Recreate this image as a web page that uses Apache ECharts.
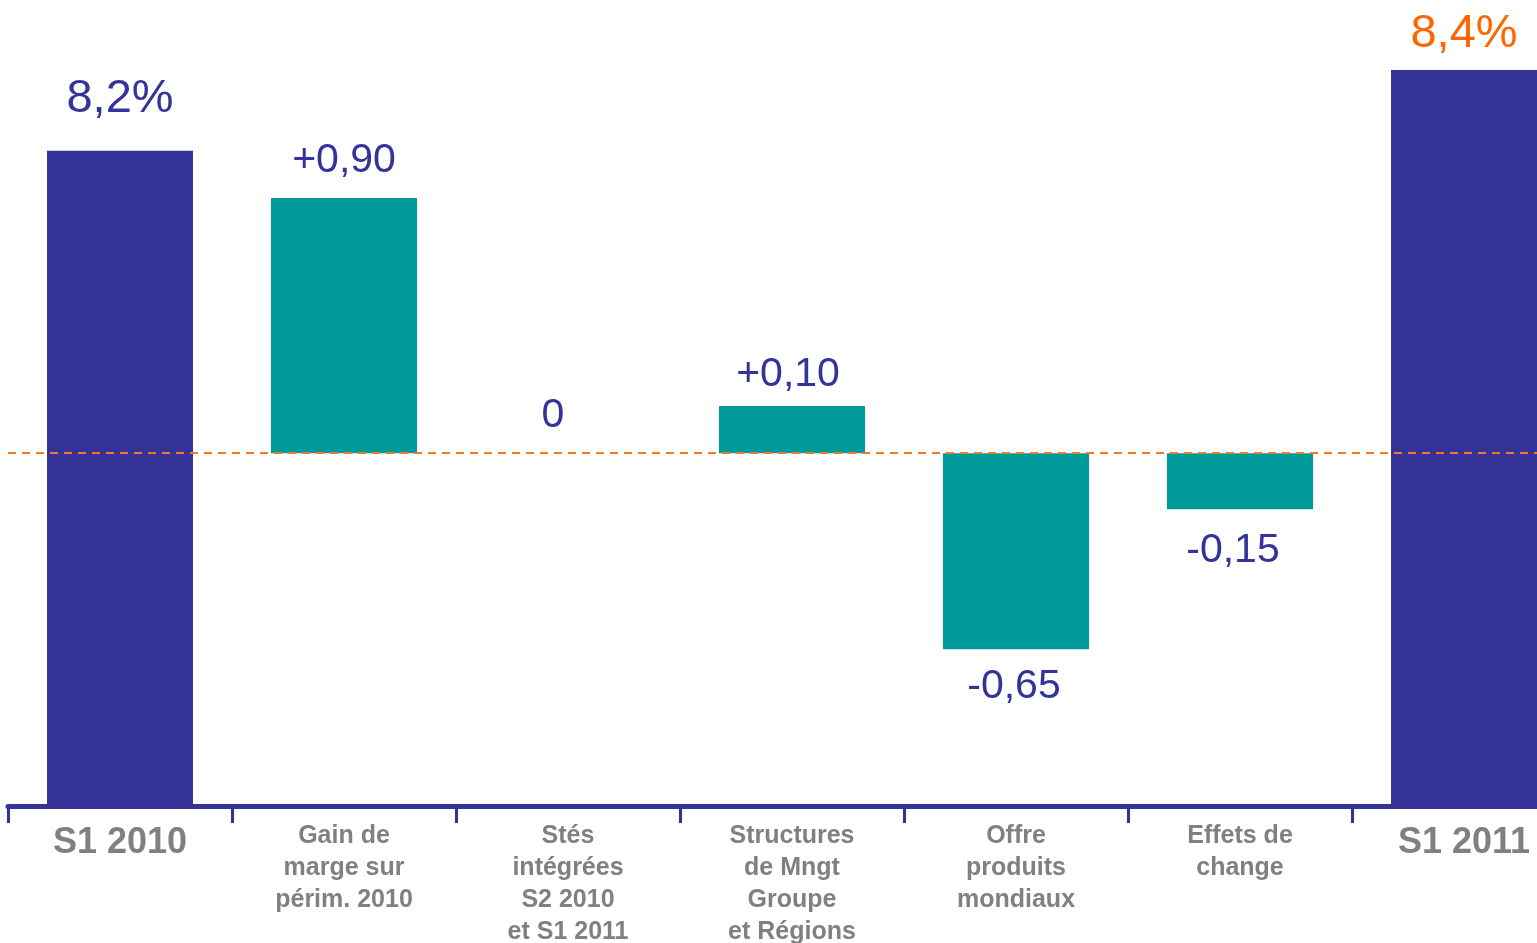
<!DOCTYPE html>
<html>
<head>
<meta charset="utf-8">
<script src="https://cdn.jsdelivr.net/npm/echarts@6/dist/echarts.min.js"></script>
<style>
  html, body { margin: 0; padding: 0; background: #fff; }
  #chart { width: 1537px; height: 943px; }
</style>
</head>
<body>
<div id="chart"></div>
<script>
// categories (bas de graphique)
const categories = [
  'S1 2010',
  'Gain de\nmarge sur\npérim. 2010',
  'Stés\nintégrées\nS2 2010\net S1 2011',
  'Structures\nde Mngt\nGroupe\net Régions',
  'Offre\nproduits\nmondiaux',
  'Effets de\nchange',
  'S1 2011'
]
const valueLabels = ['8,2%', '+0,90', '0', '+0,10', '-0,65', '-0,15', '8,4%']

// hauteurs dessinées (le graphique n'est pas à l'échelle), unités depuis l'axe
const baseLevel = 44.1
const totalHeights = [81.9, null, null, null, null, null, 92.0]
const deltaHeights = [null, 31.9, 0, 5.9, -24.5, -7.0, null]

// distance des étiquettes
const labelDistances = [28, 17, 17, 11, 17, 21, 12]
const labelShiftX = [0, 0, -15, -4, -2, -7, 0]

const dark = '#353398'
const teal = '#009999'

const placeholder = []
const visible = []
categories.forEach((c, i) => {
  const isTotal = totalHeights[i] != null
  if (isTotal) {
    placeholder.push(0)
  } else {
    const d = deltaHeights[i]
    placeholder.push(d >= 0 ? baseLevel : baseLevel + d)
  }
  const neg = !isTotal && deltaHeights[i] < 0
  visible.push({
    value: isTotal ? totalHeights[i] : Math.abs(deltaHeights[i]),
    itemStyle: { color: isTotal ? dark : teal },
    label: {
      show: true,
      position: neg ? 'bottom' : 'top',
      distance: labelDistances[i],
      offset: [labelShiftX[i], 0],
      formatter: valueLabels[i],
      fontSize: isTotal ? 47 : 41,
      color: i === categories.length - 1 ? '#ff6600' : '#333399'
    }
  })
})

const chart = echarts.init(document.getElementById('chart'))

const option = {
  animation: false,
  grid: { left: 8, width: 1568, top: 6, bottom: 137, outerBoundsMode: 'none', containLabel: false },
  xAxis: {
    type: 'category',
    data: categories,
    axisLine: { lineStyle: { color: dark, width: 5 } },
    axisTick: { show: true, length: 17, lineStyle: { color: dark, width: 3 } },
    axisLabel: {
      interval: 0,
      margin: 14,
      formatter: (v) => {
        const big = v.indexOf('S1 20') === 0 && v.indexOf('\n') < 0
        return v.split('\n').map(s => (big ? '{big|' : '{small|') + s + '}').join('\n')
      },
      rich: {
        big: { fontSize: 36, fontWeight: 'bold', color: '#808080', lineHeight: 46, fontFamily: 'Liberation Sans' },
        small: { fontSize: 25, fontWeight: 'bold', color: '#808080', lineHeight: 32, fontFamily: 'Liberation Sans' }
      }
    }
  },
  yAxis: {
    type: 'value',
    min: 0,
    max: 100,
    show: false
  },
  textStyle: { fontFamily: 'Liberation Sans' },
  series: [
    {
      name: 'base',
      type: 'bar',
      stack: 'w',
      z: 5,
      barWidth: 146,
      itemStyle: { color: 'transparent' },
      data: placeholder,
      silent: true,
      markLine: {
        silent: true,
        symbol: 'none',
        label: { show: false },
        lineStyle: { color: '#f47a20', type: [8, 6], width: 2 },
        data: [{ yAxis: baseLevel }]
      }
    },
    {
      name: 'valeur',
      type: 'bar',
      stack: 'w',
      barWidth: 146,
      data: visible
    }
  ]
}

chart.setOption(option)
</script>
</body>
</html>
